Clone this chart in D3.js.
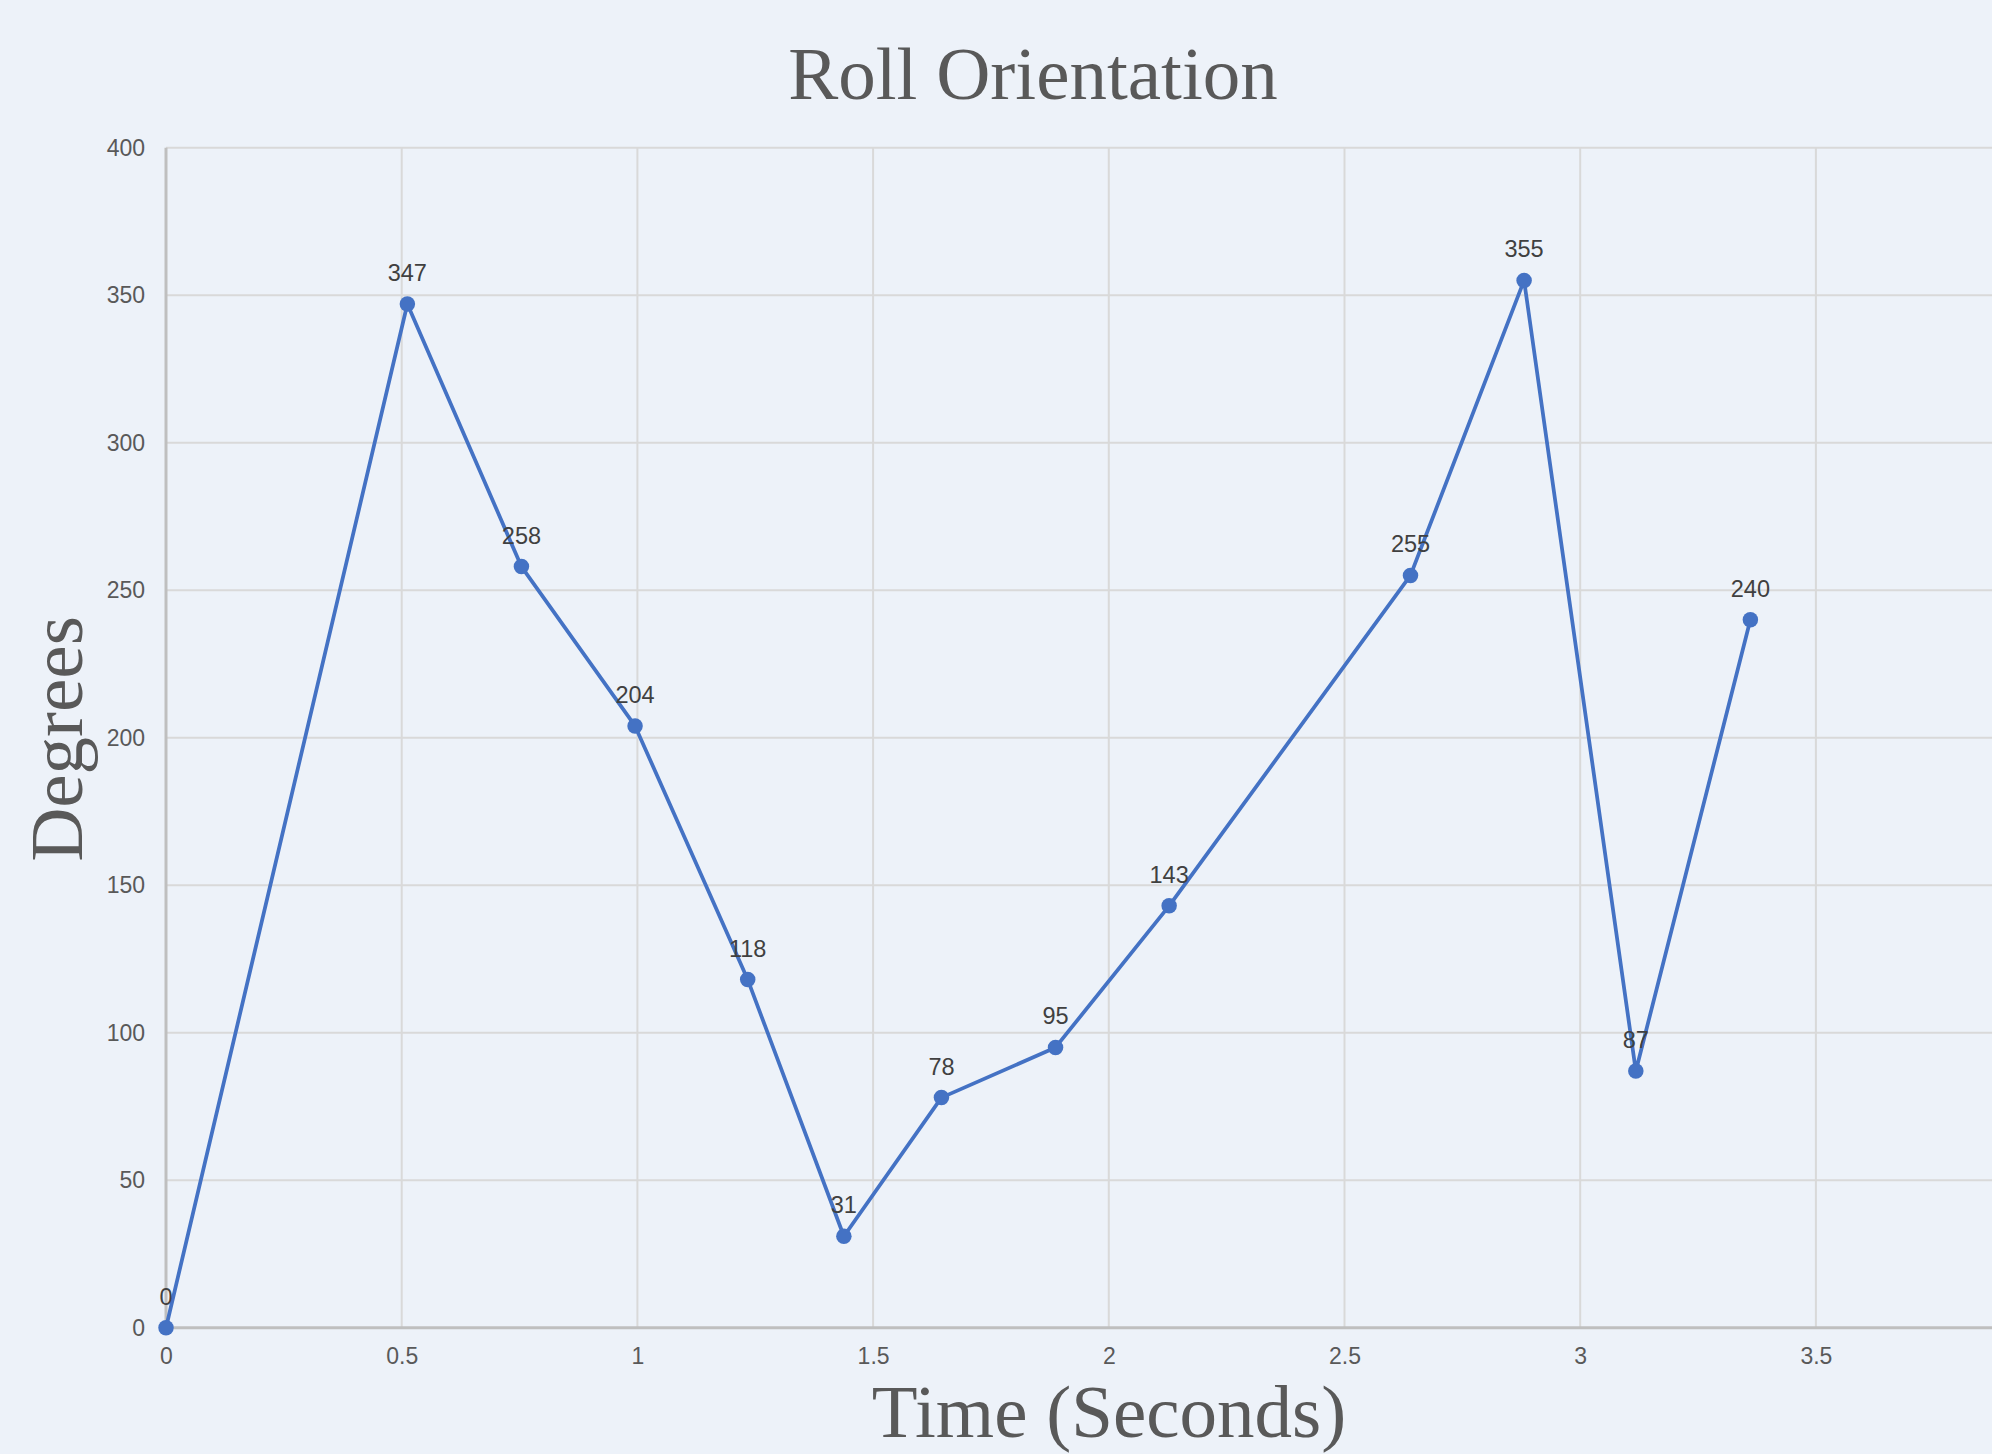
<!DOCTYPE html>
<html>
<head>
<meta charset="utf-8">
<script src="https://cdn.jsdelivr.net/npm/d3@7"></script>
<style>
  html, body { margin: 0; padding: 0; background: #edf2f9; }
  svg { display: block; }
</style>
</head>
<body>
<svg id="chart" width="1992" height="1454"></svg>
<script>
// Roll orientation samples: time in seconds and roll angle in degrees
const times   = [0, 0.512, 0.754, 0.995, 1.234, 1.438, 1.645, 1.887, 2.128, 2.640, 2.881, 3.118, 3.361];
const degrees = [0, 347, 258, 204, 118, 31, 78, 95, 143, 255, 355, 87, 240];
const xTicks  = [0, 0.5, 1, 1.5, 2, 2.5, 3, 3.5];
const yTicks  = [0, 50, 100, 150, 200, 250, 300, 350, 400];

const W = 1992, H = 1454;
const svg = d3.select("#chart");

svg.append("rect").attr("width", W).attr("height", H).attr("fill", "#edf2f9");

const x = d3.scaleLinear().domain([0, 4]).range([166, 166 + 4 * 471.4]);
const y = d3.scaleLinear().domain([0, 400]).range([1327.7, 147.7]);

const plotRight = W;

// grid
const grid = svg.append("g");
grid.selectAll("line.h").data(yTicks.slice(1)).join("line")
  .attr("x1", x(0)).attr("x2", plotRight)
  .attr("y1", d => y(d)).attr("y2", d => y(d))
  .attr("stroke", "#d9d9d9").attr("stroke-width", 2);
grid.selectAll("line.v").data(xTicks.slice(1)).join("line")
  .attr("x1", d => x(d)).attr("x2", d => x(d))
  .attr("y1", y(400)).attr("y2", y(0))
  .attr("stroke", "#d9d9d9").attr("stroke-width", 2);

// axes
const xAxis = d3.axisBottom(x).tickValues(xTicks).tickSize(0).tickPadding(20)
  .tickFormat(d => d3.format("")(d));
const gx = svg.append("g").attr("transform", `translate(0,${y(0)})`).call(xAxis);
gx.select(".domain").remove();
gx.append("line").attr("x1", x(0)).attr("x2", plotRight).attr("y1", 0).attr("y2", 0)
  .attr("stroke", "#bfbfbf").attr("stroke-width", 3);
gx.selectAll(".tick text")
  .attr("font-family", "Liberation Sans, Arial, sans-serif")
  .attr("font-size", 23).attr("fill", "#595959");

const yAxis = d3.axisLeft(y).tickValues(yTicks).tickSize(0).tickPadding(21);
const gy = svg.append("g").attr("transform", `translate(${x(0)},0)`).call(yAxis);
gy.select(".domain").remove();
gy.append("line").attr("x1", 0).attr("x2", 0).attr("y1", y(400)).attr("y2", y(0))
  .attr("stroke", "#bfbfbf").attr("stroke-width", 3);
gy.selectAll(".tick text")
  .attr("font-family", "Liberation Sans, Arial, sans-serif")
  .attr("font-size", 23).attr("fill", "#595959");

// series
const pts = times.map((t, i) => ({ t, v: degrees[i] }));
const line = d3.line().x(d => x(d.t)).y(d => y(d.v));
svg.append("path").datum(pts).attr("d", line)
  .attr("fill", "none").attr("stroke", "#4472c4").attr("stroke-width", 3.75)
  .attr("stroke-linejoin", "round");
svg.append("g").selectAll("circle").data(pts).join("circle")
  .attr("cx", d => x(d.t)).attr("cy", d => y(d.v)).attr("r", 7.75)
  .attr("fill", "#4472c4");

// data labels
svg.append("g").selectAll("text").data(pts).join("text")
  .attr("x", d => x(d.t)).attr("y", d => y(d.v) - 23)
  .attr("text-anchor", "middle")
  .attr("font-family", "Liberation Sans, Arial, sans-serif")
  .attr("font-size", 23.5).attr("fill", "#404040")
  .text(d => d.v);

// titles
svg.append("text").attr("x", 1033).attr("y", 99).attr("text-anchor", "middle")
  .attr("font-family", "Liberation Serif, Times New Roman, serif")
  .attr("font-size", 75).attr("fill", "#595959").text("Roll Orientation");

svg.append("text").attr("x", 1109).attr("y", 1437).attr("text-anchor", "middle")
  .attr("font-family", "Liberation Serif, Times New Roman, serif")
  .attr("font-size", 75).attr("fill", "#595959").text("Time (Seconds)");

svg.append("text").attr("transform", "translate(82,739) rotate(-90)")
  .attr("text-anchor", "middle")
  .attr("font-family", "Liberation Serif, Times New Roman, serif")
  .attr("font-size", 75).attr("fill", "#595959").text("Degrees");
</script>
</body>
</html>
